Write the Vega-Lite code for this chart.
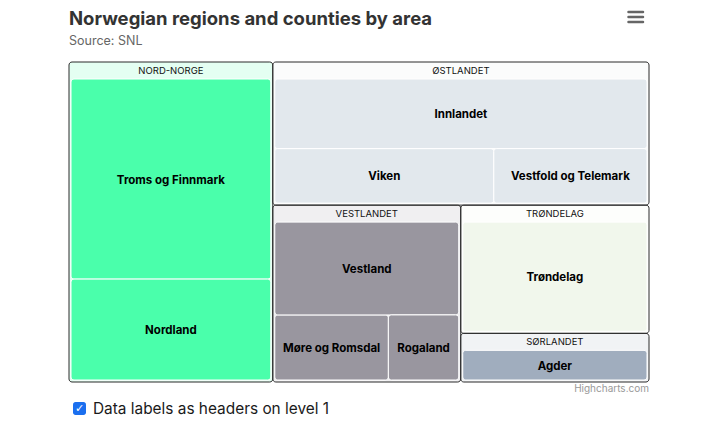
{
  "$schema": "https://vega.github.io/schema/vega-lite/v6.json",
  "width": 580,
  "height": 320,
  "autosize": {"type": "none"},
  "padding": {"left": 69, "top": 62, "right": 67, "bottom": 42},
  "background": "#ffffff",
  "config": {"view": {"stroke": null}},
  "title": {
    "text": "Norwegian regions and counties by area",
    "subtitle": "Source: SNL",
    "anchor": "start",
    "frame": "group",
    "font": "Inter",
    "fontSize": 18.5,
    "fontWeight": 700,
    "color": "#333333",
    "subtitleFont": "Inter",
    "subtitleFontSize": 12.5,
    "subtitleColor": "#666666",
    "subtitlePadding": 7,
    "offset": -37
  },
  "data": {
    "values": [
      {"region": "Nord-Norge", "county": "Troms og Finnmark", "area": 70923},
      {"region": "Nord-Norge", "county": "Nordland", "area": 35759},
      {"region": "Trøndelag", "county": "Trøndelag", "area": 39494},
      {"region": "Vestlandet", "county": "Møre og Romsdal", "area": 13840},
      {"region": "Vestlandet", "county": "Vestland", "area": 31969},
      {"region": "Vestlandet", "county": "Rogaland", "area": 8576},
      {"region": "Østlandet", "county": "Viken", "area": 22768},
      {"region": "Østlandet", "county": "Innlandet", "area": 49391},
      {"region": "Østlandet", "county": "Vestfold og Telemark", "area": 15925},
      {"region": "Sørlandet", "county": "Agder", "area": 14981}
    ]
  },
  "transform": [
    {"joinaggregate": [{"op": "sum", "field": "area", "as": "total"}]},
    {"joinaggregate": [{"op": "sum", "field": "area", "as": "rtot"}, {"op": "max", "field": "area", "as": "rmax"}], "groupby": ["region"]},
    {"window": [{"op": "row_number", "as": "rank"}, {"op": "sum", "field": "area", "as": "cum"}], "groupby": ["region"], "sort": [{"field": "area", "order": "descending"}], "frame": [null, 0]},
    {"calculate": "datum.region === 'Nord-Norge' ? datum.area : 0", "as": "nnA"},
    {"calculate": "datum.region === 'Østlandet' ? datum.area : 0", "as": "ostA"},
    {"calculate": "datum.region === 'Vestlandet' ? datum.area : 0", "as": "vestA"},
    {"calculate": "datum.region === 'Trøndelag' ? datum.area : 0", "as": "troA"},
    {"joinaggregate": [{"op": "sum", "field": "nnA", "as": "NN"}, {"op": "sum", "field": "ostA", "as": "OST"}, {"op": "sum", "field": "vestA", "as": "VEST"}, {"op": "sum", "field": "troA", "as": "TRO"}]},
    {"calculate": "580 * 320 / datum.total", "as": "k"},
    {"calculate": "datum.NN * datum.k / 320", "as": "xA"},
    {"calculate": "datum.OST * datum.k / (580 - datum.xA)", "as": "yB"},
    {"calculate": "datum.xA + datum.VEST * datum.k / (320 - datum.yB)", "as": "xC"},
    {"calculate": "datum.yB + datum.TRO * datum.k / (580 - datum.xC)", "as": "yD"},
    {"calculate": "datum.region === 'Nord-Norge' ? 0 : (datum.region === 'Østlandet' || datum.region === 'Vestlandet') ? datum.xA : datum.xC", "as": "rx0"},
    {"calculate": "datum.region === 'Nord-Norge' ? datum.xA : datum.region === 'Vestlandet' ? datum.xC : 580", "as": "rx1"},
    {"calculate": "(datum.region === 'Nord-Norge' || datum.region === 'Østlandet') ? 0 : datum.region === 'Sørlandet' ? datum.yD : datum.yB", "as": "ry0"},
    {"calculate": "datum.region === 'Østlandet' ? datum.yB : datum.region === 'Trøndelag' ? datum.yD : 320", "as": "ry1"},
    {"calculate": "datum.rx0 + 2", "as": "ix0"},
    {"calculate": "datum.rx1 - 2", "as": "ix1"},
    {"calculate": "datum.ry0 + 17", "as": "iy0"},
    {"calculate": "datum.ry1 - 2", "as": "iy1"},
    {"calculate": "datum.iy0 + (datum.iy1 - datum.iy0) * datum.rmax / datum.rtot", "as": "ys"},
    {"calculate": "datum.rank === 1 ? datum.ix0 : datum.ix0 + (datum.ix1 - datum.ix0) * (datum.cum - datum.area - datum.rmax) / (datum.rtot - datum.rmax)", "as": "cx0"},
    {"calculate": "datum.rank === 1 ? datum.ix1 : datum.ix0 + (datum.ix1 - datum.ix0) * (datum.cum - datum.rmax) / (datum.rtot - datum.rmax)", "as": "cx1"},
    {"calculate": "datum.rank === 1 ? datum.iy0 : datum.ys", "as": "cy0"},
    {"calculate": "datum.rank === 1 ? datum.ys : datum.iy1", "as": "cy1"},
    {"calculate": "(datum.cx0 + datum.cx1) / 2", "as": "cxm"},
    {"calculate": "(datum.cy0 + datum.cy1) / 2", "as": "cym"},
    {"calculate": "(datum.rx0 + datum.rx1) / 2", "as": "rxm"},
    {"calculate": "datum.ry0 + 8.5", "as": "hy"},
    {"calculate": "upper(datum.region)", "as": "header"}
  ],
  "layer": [
    {
      "transform": [{"filter": "datum.rank === 1"}],
      "mark": {"type": "rect", "fillOpacity": 0.15, "stroke": "#2b2b2b", "strokeWidth": 1, "strokeOpacity": 1, "cornerRadius": 3},
      "encoding": {
        "x": {"field": "rx0", "type": "quantitative", "scale": {"domain": [0, 580], "nice": false, "zero": false}, "axis": null},
        "x2": {"field": "rx1"},
        "y": {"field": "ry0", "type": "quantitative", "scale": {"domain": [0, 320], "reverse": true, "nice": false, "zero": false}, "axis": null},
        "y2": {"field": "ry1"},
        "color": {"field": "region", "type": "nominal", "legend": null, "scale": {"domain": ["Nord-Norge", "Østlandet", "Vestlandet", "Trøndelag", "Sørlandet"], "range": ["#4AFFAB", "#E2E8ED", "#99969F", "#F1F7EC", "#A0ADBE"]}}
      }
    },
    {
      "mark": {"type": "rect", "stroke": "#ffffff", "strokeWidth": 1, "cornerRadius": 3},
      "encoding": {
        "x": {"field": "cx0", "type": "quantitative", "scale": {"domain": [0, 580], "nice": false, "zero": false}, "axis": null},
        "x2": {"field": "cx1"},
        "y": {"field": "cy0", "type": "quantitative", "scale": {"domain": [0, 320], "reverse": true, "nice": false, "zero": false}, "axis": null},
        "y2": {"field": "cy1"},
        "color": {"field": "region", "type": "nominal", "legend": null}
      }
    },
    {
      "transform": [{"filter": "datum.rank === 1"}],
      "mark": {"type": "text", "font": "Inter", "fontSize": 9.5, "color": "#111111", "baseline": "middle", "align": "center"},
      "encoding": {
        "x": {"field": "rxm", "type": "quantitative"},
        "y": {"field": "hy", "type": "quantitative"},
        "text": {"field": "header"}
      }
    },
    {
      "mark": {"type": "text", "font": "Inter", "fontSize": 11.5, "fontWeight": 700, "color": "#000000", "baseline": "middle", "align": "center", "dy": 1.5},
      "encoding": {
        "x": {"field": "cxm", "type": "quantitative"},
        "y": {"field": "cym", "type": "quantitative"},
        "text": {"field": "county"}
      }
    },
    {
      "data": {"values": [{"credit": "Highcharts.com"}]},
      "mark": {"type": "text", "font": "Inter", "fontSize": 10, "color": "#999999", "align": "right", "baseline": "middle"},
      "encoding": {
        "x": {"datum": 580, "type": "quantitative"},
        "y": {"datum": 327, "type": "quantitative"},
        "text": {"field": "credit"}
      }
    },
    {
      "data": {"values": [{"box": "checked"}]},
      "mark": {"type": "rect", "color": "#1B6FEF", "cornerRadius": 2.5},
      "encoding": {
        "x": {"datum": 4, "type": "quantitative"},
        "x2": {"datum": 17},
        "y": {"datum": 340, "type": "quantitative"},
        "y2": {"datum": 353}
      }
    },
    {
      "data": {"values": [{"mark": "✓"}]},
      "mark": {"type": "text", "font": "DejaVu Sans", "fontSize": 11, "fontWeight": 700, "color": "#ffffff", "align": "center", "baseline": "middle"},
      "encoding": {
        "x": {"datum": 10.5, "type": "quantitative"},
        "y": {"datum": 346.5, "type": "quantitative"},
        "text": {"field": "mark"}
      }
    },
    {
      "data": {"values": [{"label": "Data labels as headers on level 1"}]},
      "mark": {"type": "text", "font": "Inter", "fontSize": 15.4, "color": "#1a1a1a", "align": "left", "baseline": "middle"},
      "encoding": {
        "x": {"datum": 24, "type": "quantitative"},
        "y": {"datum": 346.5, "type": "quantitative"},
        "text": {"field": "label"}
      }
    },
    {
      "data": {"values": [{"menu": "bar"}]},
      "mark": {"type": "rule", "color": "#666666", "strokeWidth": 2.5, "strokeCap": "round"},
      "encoding": {"x": {"datum": 559.5, "type": "quantitative"}, "x2": {"datum": 574}, "y": {"datum": -50, "type": "quantitative"}}
    },
    {
      "data": {"values": [{"menu": "bar"}]},
      "mark": {"type": "rule", "color": "#666666", "strokeWidth": 2.5, "strokeCap": "round"},
      "encoding": {"x": {"datum": 559.5, "type": "quantitative"}, "x2": {"datum": 574}, "y": {"datum": -45, "type": "quantitative"}}
    },
    {
      "data": {"values": [{"menu": "bar"}]},
      "mark": {"type": "rule", "color": "#666666", "strokeWidth": 2.5, "strokeCap": "round"},
      "encoding": {"x": {"datum": 559.5, "type": "quantitative"}, "x2": {"datum": 574}, "y": {"datum": -40, "type": "quantitative"}}
    }
  ]
}
